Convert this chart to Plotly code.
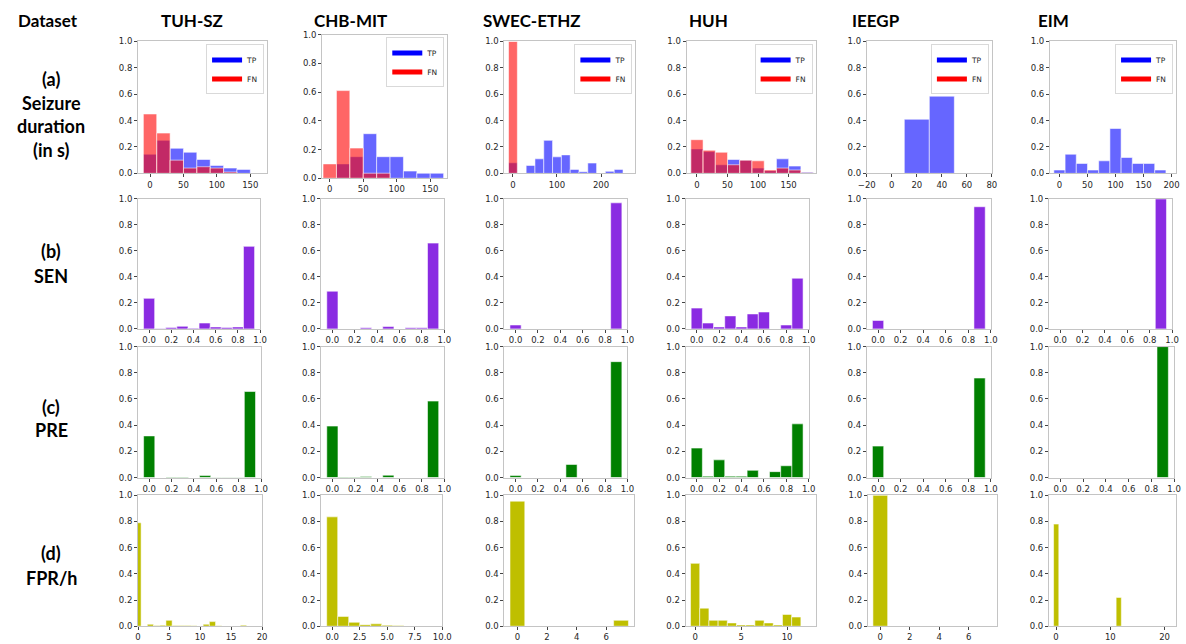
import plotly.graph_objects as go

W, H = 1186, 644

datasets = ["TUH-SZ", "CHB-MIT", "SWEC-ETHZ", "HUH", "IEEGP", "EIM"]
row_labels = [["(a)", "Seizure", "duration", "(in s)"], ["(b)", "SEN"], ["(c)", "PRE"], ["(d)", "FPR/h"]]

# ---- Row (a): seizure duration histograms (bin width 20 s, first bin starts at -10 s)
dur_start = -10
dur_width = 20
dur_tp = [
    [0.145, 0.25, 0.19, 0.16, 0.105, 0.06, 0.04, 0.03],
    [0.0, 0.10, 0.15, 0.31, 0.15, 0.15, 0.05, 0.035, 0.035],
    [0.08, 0.0, 0.06, 0.11, 0.25, 0.125, 0.14, 0.03, 0.012, 0.078, 0.0, 0.015, 0.03],
    [0.185, 0.165, 0.065, 0.105, 0.10, 0.04, 0.02, 0.11, 0.055, 0.01],
    [0.0, 0.41, 0.585],
    [0.025, 0.145, 0.075, 0.025, 0.095, 0.34, 0.12, 0.075, 0.075, 0.025],
]
dur_fn = [
    [0.45, 0.305, 0.10, 0.04, 0.05, 0.04, 0.01],
    [0.10, 0.61, 0.21, 0.035, 0.035],
    [1.0],
    [0.255, 0.175, 0.16, 0.065, 0.10, 0.095, 0.025, 0.04, 0.025, 0.005],
    [],
    [],
]
dur_xrange = [[-18, 175], [-11.3, 175.4], [-19.5, 278], [-17, 194], [-20, 80], [-17, 208]]
dur_xticks = [[0, 50, 100, 150], [0, 50, 100, 150], [0, 100, 200], [0, 50, 100, 150],
              [-20, 0, 20, 40, 60, 80], [0, 50, 100, 150, 200]]

# ---- Row (b): sensitivity histograms (bins of 0.1 from -0.05)
sen_start = -0.05
sen_width = 0.1
sen = [
    [0.235, 0.003, 0.01, 0.02, 0.005, 0.045, 0.015, 0.01, 0.015, 0.635],
    [0.29, 0.0, 0.0, 0.008, 0.0, 0.018, 0.0, 0.008, 0.008, 0.66],
    [0.03, 0.0, 0.0, 0.0, 0.0, 0.0, 0.0, 0.0, 0.0, 0.97],
    [0.16, 0.045, 0.015, 0.10, 0.015, 0.115, 0.13, 0.0, 0.03, 0.39],
    [0.065, 0.0, 0.0, 0.0, 0.0, 0.0, 0.0, 0.0, 0.0, 0.94],
    [0.0, 0.0, 0.0, 0.0, 0.0, 0.0, 0.0, 0.0, 0.0, 1.0],
]

# ---- Row (c): precision histograms
pre = [
    [0.318, 0.0, 0.005, 0.005, 0.0, 0.015, 0.003, 0.003, 0.003, 0.657],
    [0.393, 0.005, 0.005, 0.008, 0.0, 0.018, 0.0, 0.0, 0.0, 0.584],
    [0.015, 0.0, 0.0, 0.0, 0.0, 0.10, 0.0, 0.0, 0.0, 0.885],
    [0.225, 0.01, 0.135, 0.01, 0.01, 0.055, 0.0, 0.045, 0.09, 0.41],
    [0.24, 0.0, 0.0, 0.0, 0.0, 0.0, 0.0, 0.0, 0.0, 0.76],
    [0.0, 0.0, 0.0, 0.0, 0.0, 0.0, 0.0, 0.0, 0.0, 1.0],
]
metric_xticks = [0.0, 0.2, 0.4, 0.6, 0.8, 1.0]
metric_xrange = [-0.1, 1.0]

# ---- Row (d): false positive rate per hour histograms
fpr_start = [-0.5, -0.5, -0.5, -0.5, -0.5, -0.45]
fpr_width = [1.0, 1.0, 1.0, 1.0, 1.0, 0.96]
fpr = [
    [0.79, 0.0, 0.015, 0.005, 0.008, 0.045, 0.005, 0.005, 0.005, 0.003, 0.0, 0.015, 0.035,
     0.003, 0.002, 0.002, 0.0, 0.008, 0.0, 0.002],
    [0.835, 0.075, 0.03, 0.012, 0.018, 0.008, 0.005, 0.002, 0.002],
    [0.955, 0.0, 0.0, 0.0, 0.0, 0.0, 0.0, 0.045],
    [0.48, 0.138, 0.045, 0.045, 0.025, 0.01, 0.01, 0.045, 0.025, 0.01, 0.09, 0.07],
    [1.0],
    [0.78, 0.0, 0.0, 0.0, 0.0, 0.0, 0.0, 0.0, 0.0, 0.0, 0.0, 0.0, 0.22],
]
fpr_xrange = [[0, 20], [-1, 10], [-0.88, 7.9], [-1.04, 13.1], [-0.85, 7.9], [-1.3, 22.1]]
fpr_xticks = [[0, 5, 10, 15, 20], [0.0, 2.5, 5.0, 7.5, 10.0], [0, 2, 4, 6], [0, 5, 10],
              [0, 2, 4, 6], [0, 10, 20]]

y_ticks = [0.0, 0.2, 0.4, 0.6, 0.8, 1.0]

# ---- panel geometry (pixels): per row top/bottom, per cell left/right
row_tb = [(37, 171), (197, 329), (347, 480), (498, 631)]
cell_lr = [
    [(131, 262), (318, 445), (503, 636), (688, 819), (871, 998), (1057, 1185)],
    [(131, 255), (317, 442), (503, 628), (687, 812), (871, 997), (1056, 1181)],
    [(131, 256), (317, 442), (503, 628), (687, 812), (871, 997), (1056, 1183)],
    [(131, 257), (317, 440), (503, 635), (687, 819), (872, 1003), (1056, 1185)],
]
special_tb = {(0, 1): (30, 176)}
header_x = [186, 347, 531, 710, 880, 1061]
row_line_y = [[75, 100, 123, 147], [250, 275], [408, 432], [557, 582]]

C_TP = "rgba(0,0,255,0.6)"
C_FN = "rgba(255,0,0,0.6)"
C_SEN = "#8a2be2"
C_PRE = "#008000"
C_FPR = "#bfbf00"
EDGE = dict(color="rgba(255,255,255,0.55)", width=1)

fig = go.Figure()
layout = {}


def bars(heights, start, width, color, xa, ya):
    xs = [start + width * (i + 0.5) for i, h in enumerate(heights) if h > 0]
    ys = [h for h in heights if h > 0]
    return go.Bar(x=xs, y=ys, width=[width] * len(xs), marker=dict(color=color, line=EDGE),
                  xaxis=xa, yaxis=ya, showlegend=False, hoverinfo="skip")


tickfont = dict(family="DejaVu Sans", size=8.5, color="#262626")

for r in range(4):
    for c in range(6):
        idx = r * 6 + c + 1
        xa = "x" if idx == 1 else f"x{idx}"
        ya = "y" if idx == 1 else f"y{idx}"
        l, rr = cell_lr[r][c]
        t, b = special_tb.get((r, c), row_tb[r])
        if r == 0:
            xr, xt, xf = dur_xrange[c], dur_xticks[c], "d"
            fig.add_trace(bars(dur_tp[c], dur_start, dur_width, C_TP, xa, ya))
            if dur_fn[c]:
                fig.add_trace(bars(dur_fn[c], dur_start, dur_width, C_FN, xa, ya))
            lname = "legend" if c == 0 else f"legend{c + 1}"
            for nm, col in (("TP", "blue"), ("FN", "red")):
                fig.add_trace(go.Scatter(x=[None], y=[None], mode="lines", name=nm,
                                         line=dict(color=col, width=5), xaxis=xa, yaxis=ya,
                                         legend=lname, showlegend=True))
            layout[lname] = dict(x=(rr - 3) / W, y=1 - (t + 3) / H, xanchor="right",
                                 yanchor="top", bgcolor="white", bordercolor="#d9d9d9",
                                 borderwidth=1, font=dict(family="DejaVu Sans", size=7.5, color="#262626"),
                                 itemwidth=30, tracegroupgap=0, traceorder="normal")
        elif r == 1:
            xr, xt, xf = metric_xrange, metric_xticks, ".1f"
            fig.add_trace(bars(sen[c], sen_start, sen_width, C_SEN, xa, ya))
        elif r == 2:
            xr, xt, xf = metric_xrange, metric_xticks, ".1f"
            fig.add_trace(bars(pre[c], sen_start, sen_width, C_PRE, xa, ya))
        else:
            xr, xt = fpr_xrange[c], fpr_xticks[c]
            xf = ".1f" if c == 1 else "d"
            fig.add_trace(bars(fpr[c], fpr_start[c], fpr_width[c], C_FPR, xa, ya))

        common = dict(showline=True, mirror=True, linecolor="#c4c4c4", linewidth=1,
                      ticks="outside", ticklen=3, tickwidth=1, tickcolor="#444",
                      tickfont=tickfont, showgrid=False, zeroline=False, fixedrange=True)
        layout["xaxis" if idx == 1 else f"xaxis{idx}"] = dict(
            domain=[l / W, rr / W], range=xr, tickvals=xt, tickformat=xf,
            anchor=ya, **common)
        layout["yaxis" if idx == 1 else f"yaxis{idx}"] = dict(
            domain=[1 - b / H, 1 - t / H], range=[0, 1.0], tickvals=y_ticks, tickformat=".1f",
            anchor=xa, **common)

annotations = []
head_font = dict(family="Lato", size=17, color="black")
annotations.append(dict(text="<b>Dataset</b>", x=40 / W, y=1 - 16 / H, xref="paper", yref="paper",
                        showarrow=False, font=head_font, xanchor="center", yanchor="middle"))
for c, name in enumerate(datasets):
    annotations.append(dict(text=f"<b>{name}</b>", x=header_x[c] / W, y=1 - 16 / H,
                            xref="paper", yref="paper", showarrow=False, font=head_font,
                            xanchor="center", yanchor="middle", borderpad=0))
for r, lines in enumerate(row_labels):
    for k, line in enumerate(lines):
        annotations.append(dict(text=f"<b>{line}</b>", x=43 / W, y=1 - row_line_y[r][k] / H,
                                xref="paper", yref="paper", showarrow=False,
                                font=dict(family="Lato", size=18, color="black"),
                                xanchor="center", yanchor="middle"))

fig.update_layout(width=W, height=H, margin=dict(l=0, r=0, t=0, b=0), barmode="overlay",
                  paper_bgcolor="white", plot_bgcolor="white", annotations=annotations,
                  **layout)

fig.write_html("out.html", config={"displayModeBar": False},
               post_script="document.body.style.margin='0';")
